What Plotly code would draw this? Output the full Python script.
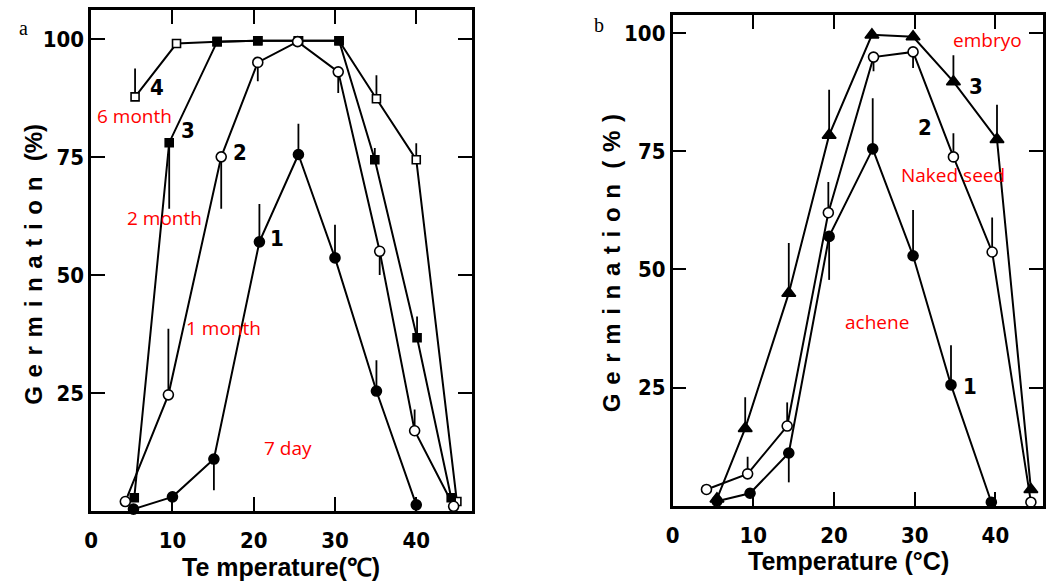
import plotly.graph_objects as go

# ---------------- Panel a data ----------------
a1_x = [5.2, 10.0, 15.1, 20.7, 25.5, 30.0, 35.1, 40.0]
a1_y = [0.4, 3.0, 11.0, 57.0, 75.5, 53.6, 25.4, 1.3]
a1_up = [0, 0, 0, 8, 6.5, 7, 6.5, 0]
a1_dn = [0, 0, 6.6, 0, 0, 0, 0, 0]

a2_x = [4.2, 9.5, 16.0, 20.5, 25.4, 30.4, 35.5, 39.8, 44.6]
a2_y = [2.0, 24.6, 75.0, 95.0, 99.4, 93.0, 55.0, 17.0, 1.0]
a2_up = [0, 14, 0, 0, 0, 0, 0, 4.5, 0]
a2_dn = [0, 0, 11, 4, 0, 4.5, 5, 0, 0]

a3_x = [5.3, 9.6, 15.5, 20.5, 25.5, 30.5, 34.9, 40.1, 44.3]
a3_y = [2.8, 78.0, 99.4, 99.6, 99.6, 99.6, 74.4, 36.7, 2.8]
a3_up = [0, 0, 0, 0, 0, 0, 2.5, 4.5, 0]
a3_dn = [0, 14, 0, 0, 0, 0, 0, 0, 0]

a4_x = [5.4, 10.5, 15.5, 20.5, 25.5, 30.5, 35.1, 40.0, 45.0]
a4_y = [87.7, 99.0, 99.4, 99.6, 99.6, 99.6, 87.3, 74.4, 2.0]
a4_up = [6, 0, 0, 0, 0, 0, 5, 3.5, 0]
a4_dn = [0, 0, 0, 0, 0, 0, 0, 0, 0]

# ---------------- Panel b data ----------------
b1_x = [5.5, 9.6, 14.4, 19.4, 24.8, 29.8, 34.5, 39.5]
b1_y = [1.0, 2.7, 11.2, 57.0, 75.5, 52.9, 25.6, 0.8]
b1_up = [0, 0, 0, 0, 10.7, 9.7, 8.4, 0]
b1_dn = [0, 0, 6.2, 9.2, 0, 0, 0, 0]

b2_x = [4.2, 9.3, 14.2, 19.3, 24.9, 29.8, 34.8, 39.6, 44.4]
b2_y = [3.5, 6.8, 16.9, 62.0, 94.9, 96.0, 73.8, 53.7, 0.8]
b2_up = [0, 3.6, 5, 6.5, 0, 0, 5, 7.3, 0]
b2_dn = [0, 0, 0, 0, 3, 3.4, 0, 0, 0]

b3_x = [5.5, 9.0, 14.4, 19.4, 24.7, 29.8, 34.8, 40.2, 44.4]
b3_y = [1.5, 16.4, 45.0, 78.4, 99.6, 99.2, 89.7, 77.5, 3.5]
b3_up = [0, 6.6, 10.6, 9.6, 0, 0, 5.6, 7.3, 0]
b3_dn = [0, 0, 0, 0, 0, 0, 0, 0, 0]

x_ticks = [0, 10, 20, 30, 40]
y_ticks = [25, 50, 75, 100]

NARROW = "Liberation Sans Narrow, DejaVu Sans Condensed, Liberation Sans, sans-serif"
SANS = "Liberation Sans, Arial, sans-serif"
RED_FONT = "Open Sans, Noto Sans, sans-serif"
RED = "rgb(255,0,0)"

fig = go.Figure()


def add_series(x, y, up, dn, symbol, size, fill, xa, ya):
    fig.add_trace(go.Scatter(
        x=x, y=y, mode="lines+markers", xaxis=xa, yaxis=ya,
        line=dict(color="black", width=2),
        marker=dict(symbol=symbol, size=size, color=fill,
                    line=dict(color="black", width=1.6)),
        error_y=dict(type="data", symmetric=False, array=up, arrayminus=dn,
                     color="black", thickness=1.8, width=0),
        showlegend=False, cliponaxis=False,
    ))


# panel a
add_series(a4_x, a4_y, a4_up, a4_dn, "square", 8, "white", "x", "y")
add_series(a3_x, a3_y, a3_up, a3_dn, "square", 8, "black", "x", "y")
add_series(a1_x, a1_y, a1_up, a1_dn, "circle", 10, "black", "x", "y")
add_series(a2_x, a2_y, a2_up, a2_dn, "circle", 10, "white", "x", "y")
# panel b
add_series(b3_x, b3_y, b3_up, b3_dn, "triangle-up", 12, "black", "x2", "y2")
add_series(b1_x, b1_y, b1_up, b1_dn, "circle", 10, "black", "x2", "y2")
add_series(b2_x, b2_y, b2_up, b2_dn, "circle", 10, "white", "x2", "y2")

W, H = 1046, 583

axis_common = dict(
    showgrid=False, zeroline=False, showline=True, linecolor="black",
    linewidth=2.5, mirror="ticks", ticks="inside", ticklen=14,
    tickwidth=2, tickcolor="black",
    tickfont=dict(family=NARROW, size=22, color="black", weight="bold"),
)

fig.update_layout(
    width=W, height=H, margin=dict(l=0, r=0, t=0, b=0),
    paper_bgcolor="white", plot_bgcolor="white",
    xaxis=dict(domain=[85 / W, 469 / W], range=[0, 46.8], tickvals=x_ticks,
               anchor="y", ticklabelstandoff=8, **axis_common),
    yaxis=dict(domain=[1 - 511 / H, 1 - 10 / H], range=[0, 106.1],
               tickvals=y_ticks, anchor="x", **axis_common),
    xaxis2=dict(domain=[672 / W, 1.0], range=[0, 45.9], tickvals=x_ticks,
                anchor="y2", ticklabelstandoff=8, **axis_common),
    yaxis2=dict(domain=[1 - 506 / H, 1 - 15 / H], range=[0, 103.8],
                tickvals=y_ticks, anchor="x2", **axis_common),
)


def ann(text, x, y, size, color="black", family=SANS, angle=0):
    fig.add_annotation(text=text, x=x / W, y=1 - y / H, xref="paper",
                       yref="paper", showarrow=False, textangle=angle,
                       xanchor="center", yanchor="middle",
                       font=dict(family=family, size=size, color=color))


sp = "\u00a0\u200a"
ytitle = sp.join(list("Germination")) + sp + "\u00a0(%)"
ytitle_b = sp.join(list("Germination")) + sp + "\u00a0(" + sp + "%" + sp + ")"
ann("<b>" + ytitle + "</b>", 26, 264, 24, angle=-90)
ann("<b>" + ytitle_b + "</b>", 610, 263, 24, angle=-90)
ann("<b>Te\u00a0mperature(℃)</b>", 277, 567, 25)
ann("<b>Temperature\u00a0(°C)</b>", 850, 561, 25)

ann("a", 17, 28, 20, family="Liberation Serif, serif")
ann("b", 598, 25, 20, family="Liberation Serif, serif")

# curve numbers
for t, x, y in [("4", 151, 88), ("3", 183, 130), ("2", 235, 152), ("1", 273, 238),
                ("3", 978, 86), ("2", 927, 127), ("1", 972, 386)]:
    ann("<b>" + t + "</b>", x, y, 22, family=NARROW)

# red labels
for t, x, y in [("6 month", 129, 116), ("2 month", 159, 218), ("1 month", 219, 328),
                ("7 day", 284, 448), ("embryo", 990, 40), ("Naked seed", 955, 175),
                ("achene", 878, 322)]:
    ann(t, x, y, 19, color=RED, family=RED_FONT)

fig.write_html("out.html")
